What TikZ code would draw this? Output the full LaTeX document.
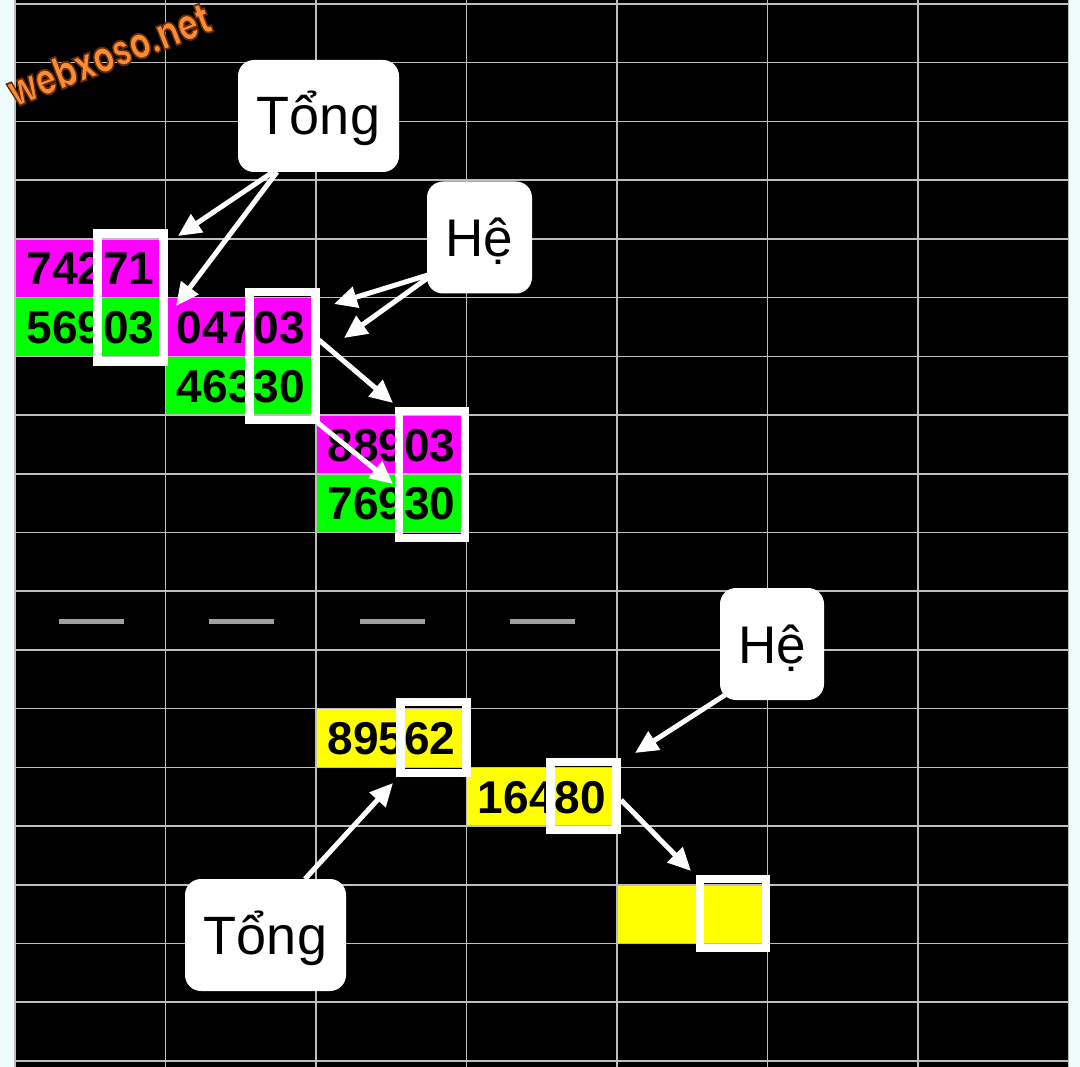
\documentclass[tikz,border=0pt]{standalone}
\usepackage{fontspec}
\setmainfont{Liberation Sans}
\newfontfamily\wmfont{Poppins}
\usetikzlibrary{arrows.meta}
\definecolor{side}{RGB}{238,252,252}
\definecolor{gridc}{RGB}{190,190,190}
\definecolor{mag}{RGB}{255,0,255}
\definecolor{grn}{RGB}{0,255,0}
\definecolor{yel}{RGB}{255,255,0}
\definecolor{wmorange}{RGB}{252,140,50}
\definecolor{dashc}{RGB}{160,160,160}
\newcommand{\cellnode}[5]{\node[cellbox, fill=#4] (#1) at ({15+150.5*#2},{4+58.72*#3}) {#5};}
\begin{document}
\begin{tikzpicture}[x=1pt,y=-1pt,
  cellbox/.style={anchor=north west, inner sep=0pt, minimum width=150.5pt, minimum height=58.72pt,
    text height=33pt, text depth=0pt, font=\bfseries\fontsize{46}{46}\selectfont, text=black},
  hlbox/.style={draw=white, line width=8.5pt, inner sep=0pt, minimum width=66pt},
  callout/.style={fill=white, rounded corners=16pt, inner sep=0pt, minimum height=112pt,
    text height=50pt, text depth=12pt, text=black},
  gridline/.style={draw=gridc, line width=1.5pt},
  warrow/.style={draw=white, line width=5pt, -{Triangle[length=23pt,width=21pt]}}
]
\useasboundingbox (0,0) rectangle (1080,1067);
\fill[side] (0,0) rectangle (1080,1067);
\fill[black] (14,0) rectangle (1069,1067);

% coloured cells
\cellnode{c1}{0}{4}{mag}{74271}
\cellnode{c2}{0}{5}{grn}{56903}
\cellnode{c3}{1}{5}{mag}{04703}
\cellnode{c4}{1}{6}{grn}{46330}
\cellnode{c5}{2}{7}{mag}{88903}
\cellnode{c6}{2}{8}{grn}{76930}
\cellnode{c7}{2}{12}{yel}{89562}
\cellnode{c8}{3}{13}{yel}{16480}
\cellnode{c9}{4}{15}{yel}{}

% grid
\foreach \i in {0,...,18} \draw[gridline] (15,{4+58.72*\i}) -- (1068.5,{4+58.72*\i});
\foreach \j in {0,...,7} \draw[gridline] ({15+150.5*\j},0) -- ({15+150.5*\j},1067);

% separator dashes
\foreach \j in {0,...,3} \fill[dashc] ({15+150.5*\j+43.5},618.5) rectangle ++(65,5);

% highlight boxes
\node[hlbox, minimum height=128pt] (b1) at (130.25,297.5) {};
\node[hlbox, minimum height=128pt] (b2) at (282.5,356) {};
\node[hlbox, minimum height=127pt] (b3) at (432,474.5) {};
\node[hlbox, minimum height=71pt] (b4) at (433.5,737.5) {};
\node[hlbox, minimum height=68pt] (b5) at (583.5,796) {};
\node[hlbox, minimum height=69pt] (b6) at (733,913.5) {};

% callouts
\node[callout, minimum width=161pt, font=\fontsize{54}{54}\selectfont] (t1) at (318.5,116) {Tổng};
\node[callout, minimum width=105pt, font=\fontsize{53}{53}\selectfont] (h1) at (479.5,237.5) {Hệ};
\node[callout, minimum width=104pt, font=\fontsize{53}{53}\selectfont] (h2) at (772,644) {Hệ};
\node[callout, minimum width=161pt, font=\fontsize{54}{54}\selectfont] (t2) at (265.5,935) {Tổng};

% arrow ends
\coordinate (a1s) at (273,172); \coordinate (a1e) at (178,236);
\coordinate (a2s) at (277,172); \coordinate (a2e) at (176,306);
\coordinate (a3s) at (428,275); \coordinate (a3e) at (334,304);
\coordinate (a4s) at (429,277); \coordinate (a4e) at (344,338);
\coordinate (a5s) at (319,340); \coordinate (a5e) at (393,403);
\coordinate (a6s) at (318,423); \coordinate (a6e) at (393,484);
\coordinate (a7s) at (725,695); \coordinate (a7e) at (635,753);
\coordinate (a8s) at (621,800); \coordinate (a8e) at (691,871);
\coordinate (a9s) at (305,879); \coordinate (a9e) at (393,783);
\foreach \k in {1,...,9} \draw[warrow] (a\k s) -- (a\k e);

% watermark
\node[rotate=21, text=wmorange, inner sep=0pt, font=\wmfont\bfseries\fontsize{44}{44}\selectfont] (wm) at (109,54)
  {\special{pdf:code q 2 Tr 1.8 w 0.40 0.17 0.03 RG}\scalebox{0.74}[1]{webxoso.net}\special{pdf:code Q}};
\end{tikzpicture}
\end{document}
